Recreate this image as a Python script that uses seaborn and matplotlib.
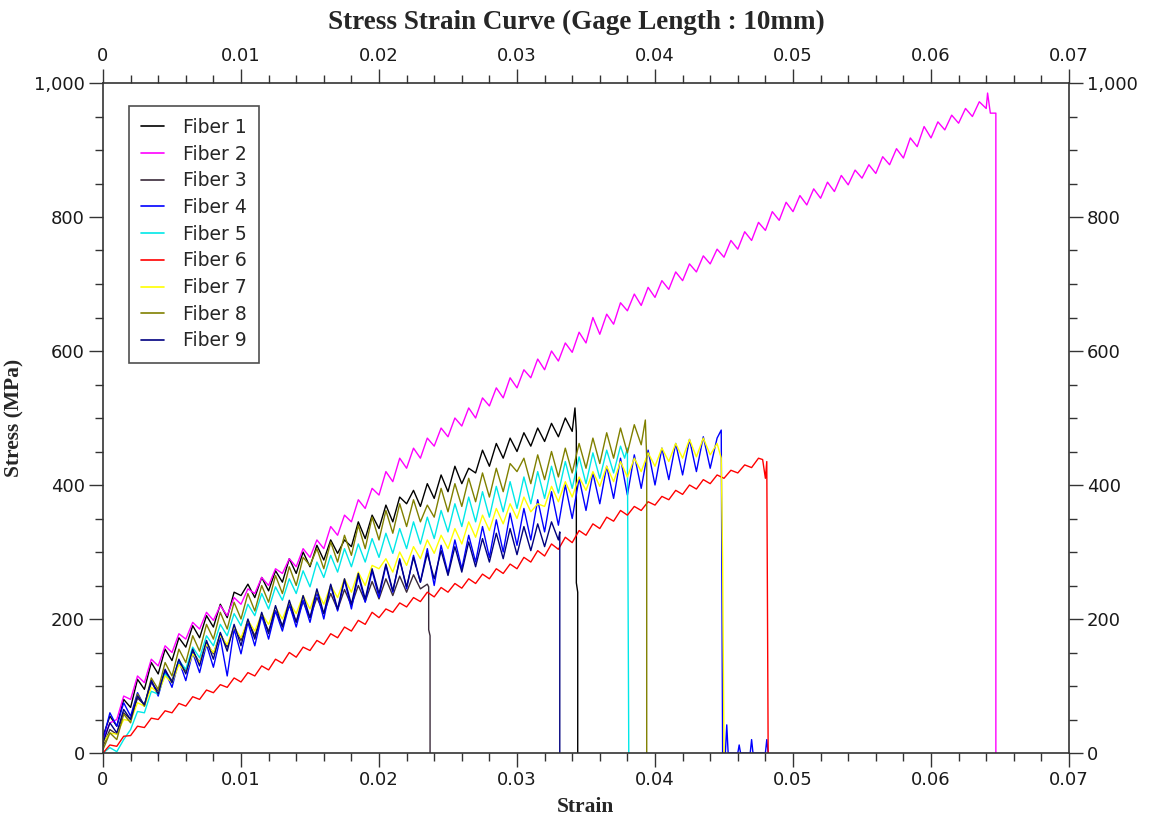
import numpy as np
import pandas as pd
import matplotlib
matplotlib.use("Agg")
import matplotlib.pyplot as plt
from matplotlib.ticker import MultipleLocator, FuncFormatter
import seaborn as sns

# ---------------- data (stress in MPa, sampled every STEP of strain) ----------------
STEP = 0.0005
FIBERS = ["Fiber 1", "Fiber 2", "Fiber 3", "Fiber 4", "Fiber 5",
          "Fiber 6", "Fiber 7", "Fiber 8", "Fiber 9"]
COLORS = ["#000000", "#ff00ff", "#3a2a3a", "#0000ff", "#00e8e8",
          "#ff0000", "#ffff00", "#808000", "#000080"]

fiber1 = [25, 55, 40, 80, 68, 110, 95, 135, 118, 155, 138, 172, 158, 190, 172, 205, 188, 222, 202, 240,
          235, 252, 232, 262, 242, 272, 255, 290, 268, 300, 278, 310, 288, 318, 298, 318, 308, 345, 320, 355,
          335, 370, 345, 382, 372, 392, 368, 402, 380, 415, 390, 428, 402, 425, 418, 452, 428, 462, 440, 470,
          450, 478, 458, 485, 465, 492, 472, 500, 480]
fiber1_tail_x = [0.0342, 0.0343, 0.0343, 0.0344, 0.0344]
fiber1_tail_y = [515, 480, 254, 240, 0]

fiber2 = [20, 45, 50, 85, 80, 115, 105, 140, 130, 160, 150, 178, 170, 195, 185, 210, 198, 220, 205, 232,
          222, 245, 238, 262, 250, 275, 268, 290, 278, 305, 292, 318, 305, 338, 325, 355, 345, 378, 365, 395,
          385, 420, 405, 440, 425, 455, 440, 470, 458, 485, 472, 500, 488, 515, 500, 530, 518, 545, 530, 560,
          545, 572, 560, 588, 572, 600, 585, 612, 598, 628, 612, 650, 625, 655, 640, 672, 660, 685, 668, 695,
          680, 705, 692, 718, 705, 730, 718, 742, 730, 752, 740, 765, 752, 778, 765, 792, 780, 808, 795, 822,
          808, 832, 818, 842, 828, 852, 838, 862, 848, 870, 858, 878, 865, 890, 878, 902, 888, 918, 905, 935,
          918, 942, 930, 952, 940, 962, 950, 972, 962]
fiber2_tail_x = [0.0641, 0.0643, 0.0647, 0.0647]
fiber2_tail_y = [985, 955, 955, 0]

fiber3 = [10, 35, 28, 60, 50, 82, 72, 105, 92, 122, 108, 138, 122, 152, 135, 165, 148, 178, 158, 188,
          168, 198, 175, 205, 182, 212, 190, 220, 196, 226, 202, 232, 208, 238, 214, 244, 220, 250, 226, 256,
          230, 260, 235, 264, 240, 266, 245, 252]
fiber3_tail_x = [0.0236, 0.0236, 0.0237, 0.0237]
fiber3_tail_y = [248, 184, 175, 0]

fiber4 = [20, 60, 40, 75, 55, 90, 70, 108, 85, 122, 98, 138, 108, 150, 120, 162, 128, 172, 115, 185,
          148, 195, 160, 205, 170, 212, 182, 222, 188, 228, 195, 240, 200, 250, 212, 258, 215, 265, 225, 272,
          232, 280, 240, 290, 245, 295, 255, 305, 250, 310, 268, 318, 275, 325, 285, 338, 292, 348, 300, 358,
          310, 365, 318, 378, 330, 390, 340, 400, 350, 410, 362, 418, 372, 428, 380, 440, 385, 445, 395, 452,
          400, 455, 408, 462, 415, 468, 420, 472, 425, 470]
fiber4_tail_x = [0.0448, 0.0449, 0.0451, 0.0452, 0.0453, 0.0460, 0.0461, 0.0462,
                 0.0469, 0.0470, 0.0471, 0.0480, 0.0481, 0.0482]
fiber4_tail_y = [482, 0, 0, 42, 0, 0, 12, 0, 0, 20, 0, 0, 20, 0]

fiber5 = [0, 8, 2, 20, 35, 62, 60, 92, 88, 118, 105, 138, 125, 158, 142, 175, 160, 192, 175, 208,
          190, 222, 205, 238, 215, 248, 228, 260, 238, 272, 248, 285, 262, 295, 270, 305, 278, 312, 285, 320,
          292, 328, 298, 335, 305, 345, 312, 352, 320, 362, 330, 372, 338, 382, 345, 390, 352, 398, 360, 405,
          365, 412, 372, 420, 380, 428, 388, 435, 395, 442, 402, 448, 410, 452, 418, 458]
fiber5_tail_x = [0.0378, 0.0380, 0.0381]
fiber5_tail_y = [440, 455, 0]

fiber6 = [0, 12, 10, 25, 26, 40, 38, 52, 50, 63, 60, 74, 70, 84, 80, 94, 90, 102, 98, 112,
          106, 120, 115, 130, 124, 140, 134, 150, 143, 158, 153, 168, 162, 178, 172, 188, 182, 198, 192, 210,
          202, 215, 210, 224, 218, 232, 226, 240, 233, 247, 240, 253, 246, 260, 253, 267, 260, 275, 268, 282,
          275, 292, 285, 302, 294, 312, 304, 322, 314, 332, 325, 342, 335, 352, 346, 362, 355, 368, 362, 375,
          370, 383, 378, 392, 386, 400, 394, 408, 402, 415, 410, 422, 418, 430, 426, 440]
fiber6_tail_x = [0.0478, 0.0480, 0.0481, 0.0482]
fiber6_tail_y = [438, 410, 435, 0]

fiber7 = [15, 30, 28, 50, 48, 75, 70, 98, 90, 115, 105, 132, 120, 148, 135, 162, 150, 175, 162, 188,
          172, 198, 182, 208, 192, 218, 200, 225, 208, 235, 215, 242, 222, 250, 232, 260, 240, 270, 250, 280,
          275, 290, 270, 300, 280, 308, 290, 318, 298, 325, 305, 335, 312, 345, 322, 355, 332, 365, 342, 372,
          350, 382, 360, 372, 368, 398, 375, 405, 382, 412, 392, 420, 398, 428, 405, 435, 412, 440, 420, 448,
          428, 455, 435, 462, 440, 468, 442, 470, 445, 462]
fiber7_tail_x = [0.0448, 0.0449, 0.0450]
fiber7_tail_y = [440, 288, 0]

fiber8 = [5, 30, 20, 58, 45, 88, 70, 112, 95, 135, 115, 155, 135, 175, 152, 192, 170, 210, 185, 225,
          200, 238, 212, 250, 225, 265, 238, 278, 250, 292, 280, 305, 275, 315, 285, 325, 295, 340, 305, 352,
          318, 362, 328, 372, 338, 378, 345, 370, 352, 395, 360, 402, 368, 410, 375, 418, 382, 425, 390, 432,
          420, 440, 402, 445, 408, 450, 412, 455, 418, 462, 425, 470, 432, 478, 440, 485, 448, 490, 460]
fiber8_tail_x = [0.0393, 0.0394, 0.0394]
fiber8_tail_y = [497, 440, 0]

fiber9 = [15, 45, 30, 65, 50, 85, 72, 108, 88, 125, 105, 140, 118, 155, 130, 168, 140, 180, 152, 192,
          160, 200, 170, 210, 178, 220, 188, 228, 195, 235, 202, 245, 208, 252, 215, 260, 222, 268, 230, 275,
          238, 282, 242, 288, 248, 292, 255, 298, 260, 302, 265, 308, 270, 315, 278, 320, 285, 328, 290, 335,
          296, 338, 302, 342, 308, 345, 318]
fiber9_tail_x = [0.0331, 0.0331]
fiber9_tail_y = [330, 0]

SERIES = [fiber1, fiber2, fiber3, fiber4, fiber5, fiber6, fiber7, fiber8, fiber9]
TAILS_X = [fiber1_tail_x, fiber2_tail_x, fiber3_tail_x, fiber4_tail_x, fiber5_tail_x,
           fiber6_tail_x, fiber7_tail_x, fiber8_tail_x, fiber9_tail_x]
TAILS_Y = [fiber1_tail_y, fiber2_tail_y, fiber3_tail_y, fiber4_tail_y, fiber5_tail_y,
           fiber6_tail_y, fiber7_tail_y, fiber8_tail_y, fiber9_tail_y]

X_TICKS = [0, 0.01, 0.02, 0.03, 0.04, 0.05, 0.06, 0.07]
Y_TICKS = [0, 200, 400, 600, 800, 1000]

# ---------------- build long table ----------------
rows = []
for name, vals, tx, ty in zip(FIBERS, SERIES, TAILS_X, TAILS_Y):
    for i, v in enumerate(vals):
        rows.append((name, round(i * STEP, 4), v))
    for x, y in zip(tx, ty):
        rows.append((name, x, y))
df = pd.DataFrame(rows, columns=["fiber", "strain", "stress"])

# ---------------- plot ----------------
sns.set_theme(style="ticks")
plt.rcParams["font.family"] = ["DejaVu Sans"]

W, H = 1155, 821
fig = plt.figure(figsize=(W / 100, H / 100), dpi=100)
ax = fig.add_axes([103 / W, 1 - 753 / H, (1069 - 103) / W, (753 - 83) / H])

sns.lineplot(data=df, x="strain", y="stress", hue="fiber", hue_order=FIBERS,
             palette=dict(zip(FIBERS, COLORS)), sort=False, estimator=None,
             linewidth=1.0, ax=ax, legend=True)

ax.set_xlim(0, 0.07)
ax.set_ylim(0, 1000)
ax.xaxis.set_minor_locator(MultipleLocator(0.002))
ax.yaxis.set_minor_locator(MultipleLocator(50))
ax.set_xticks(X_TICKS)
ax.set_yticks(Y_TICKS)
ax.xaxis.set_major_formatter(FuncFormatter(lambda v, p: "0" if abs(v) < 1e-12 else f"{v:.2f}"))
ax.yaxis.set_major_formatter(FuncFormatter(lambda v, p: f"{v:,.0f}"))

ax.tick_params(which="both", direction="out", top=True, right=True,
               labeltop=True, labelright=True, color="#333333", width=1.0)
ax.tick_params(which="major", length=10, labelsize=13, labelcolor="#1a1a1a", pad=3)
ax.tick_params(which="minor", length=6)
for s in ax.spines.values():
    s.set_color("#333333")
    s.set_linewidth(1.2)
    s.set_visible(True)

ax.set_xlabel("Strain", family="Liberation Serif", fontweight="bold", fontsize=15.5, labelpad=6)
ax.set_ylabel("Stress (MPa)", family="Liberation Serif", fontweight="bold", fontsize=15.5, labelpad=7)
fig.text(576 / W, 1 - 22 / H, "Stress Strain Curve (Gage Length : 10mm)",
         family="Liberation Serif", fontweight="bold", fontsize=19.5, ha="center", va="center")

leg = ax.legend(loc="upper left", bbox_to_anchor=(0.027, 0.966), borderaxespad=0,
                fontsize=13.5, frameon=True, fancybox=False, edgecolor="#222222",
                handlelength=1.2, handletextpad=1.0, labelspacing=0.41,
                borderpad=0.65, title=None)
leg.get_frame().set_linewidth(1.2)
for line in leg.get_lines():
    line.set_linewidth(1.2)

fig.savefig("out.png", dpi=100, facecolor="white")
